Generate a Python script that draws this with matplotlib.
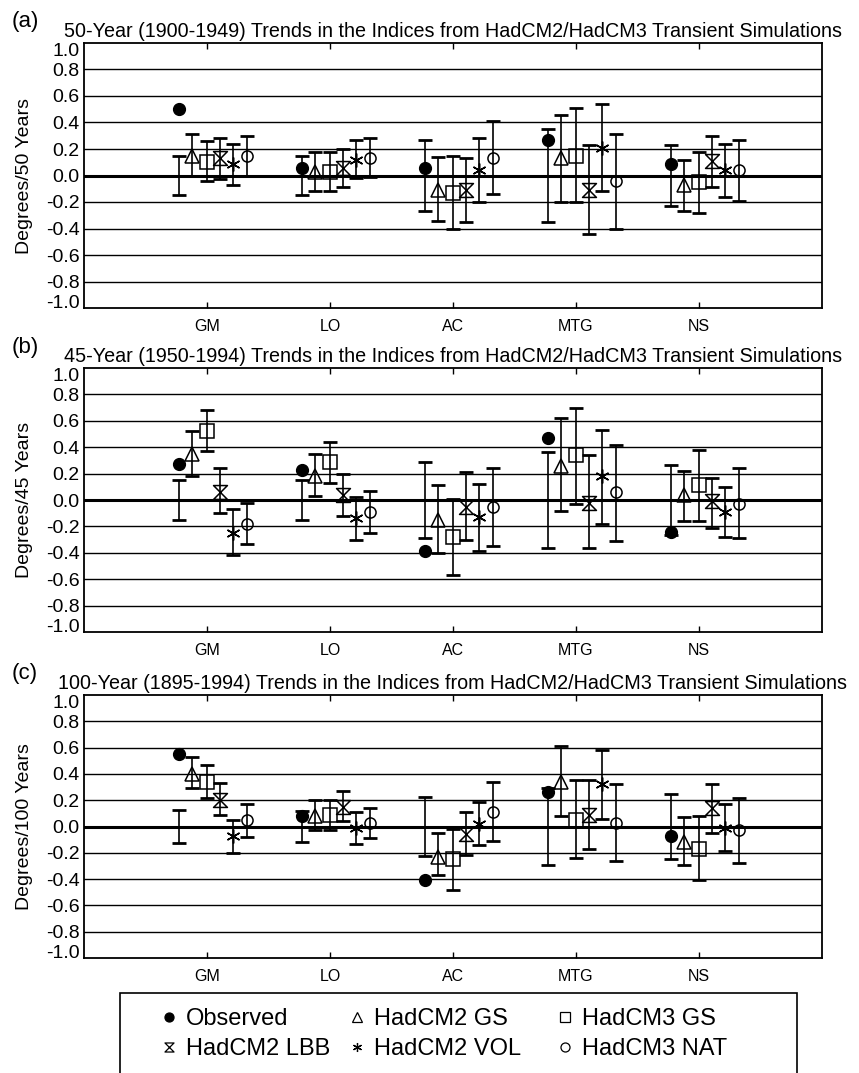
import numpy as np
import matplotlib
matplotlib.use("Agg")
import matplotlib.pyplot as plt
from matplotlib.path import Path
from matplotlib.lines import Line2D
from matplotlib.patches import Rectangle

plt.rcParams['font.family'] = ['Liberation Sans', 'DejaVu Sans']
plt.rcParams['axes.unicode_minus'] = False

categories = ['GM', 'LO', 'AC', 'MTG', 'NS']
panel_tags = ['(a)', '(b)', '(c)']
titles = ['50-Year (1900-1949) Trends in the Indices from HadCM2/HadCM3 Transient Simulations',
          '45-Year (1950-1994) Trends in the Indices from HadCM2/HadCM3 Transient Simulations',
          '100-Year (1895-1994) Trends in the Indices from HadCM2/HadCM3 Transient Simulations']
ylabels = ['Degrees/50 Years', 'Degrees/45 Years', 'Degrees/100 Years']
series_names = ['Observed', 'HadCM2 GS', 'HadCM3 GS', 'HadCM2 LBB', 'HadCM2 VOL', 'HadCM3 NAT']
ytick_vals = [-1.0, -0.8, -0.6, -0.4, -0.2, 0.0, 0.2, 0.4, 0.6, 0.8, 1.0]
ytick_labels = ['-1.0', '-0.8', '-0.6', '-0.4', '-0.2', '0.0', '0.2', '0.4', '0.6', '0.8', '1.0']

# (a) 50-year trends
a_obs = [0.50, 0.06, 0.06, 0.27, 0.09]
a_noise = [0.15, 0.15, 0.27, 0.35, 0.23]   # half width of the noise bar around zero
a_gs2 = [0.15, 0.03, -0.11, 0.13, -0.07]
a_gs2_lo = [0.00, -0.12, -0.34, -0.20, -0.27]
a_gs2_hi = [0.31, 0.18, 0.14, 0.46, 0.12]
a_gs3 = [0.10, 0.03, -0.13, 0.15, -0.05]
a_gs3_lo = [-0.04, -0.12, -0.40, -0.20, -0.28]
a_gs3_hi = [0.26, 0.18, 0.15, 0.51, 0.18]
a_lbb = [0.13, 0.06, -0.11, -0.11, 0.11]
a_lbb_lo = [-0.03, -0.09, -0.35, -0.44, -0.09]
a_lbb_hi = [0.28, 0.20, 0.13, 0.23, 0.30]
a_vol = [0.09, 0.12, 0.04, 0.21, 0.04]
a_vol_lo = [-0.07, -0.02, -0.20, -0.12, -0.16]
a_vol_hi = [0.24, 0.27, 0.28, 0.54, 0.24]
a_nat = [0.15, 0.13, 0.13, -0.04, 0.04]
a_nat_lo = [0.00, -0.01, -0.14, -0.40, -0.19]
a_nat_hi = [0.30, 0.28, 0.41, 0.31, 0.27]

# (b) 45-year trends
b_obs = [0.27, 0.23, -0.39, 0.47, -0.24]
b_noise = [0.155, 0.155, 0.29, 0.365, 0.265]
b_gs2 = [0.35, 0.18, -0.15, 0.26, 0.04]
b_gs2_lo = [0.18, 0.03, -0.40, -0.08, -0.16]
b_gs2_hi = [0.52, 0.35, 0.11, 0.62, 0.22]
b_gs3 = [0.52, 0.29, -0.28, 0.34, 0.11]
b_gs3_lo = [0.37, 0.13, -0.57, -0.03, -0.16]
b_gs3_hi = [0.68, 0.44, 0.01, 0.70, 0.38]
b_lbb = [0.06, 0.04, -0.05, -0.02, -0.01]
b_lbb_lo = [-0.10, -0.12, -0.30, -0.36, -0.21]
b_lbb_hi = [0.24, 0.20, 0.21, 0.34, 0.17]
b_vol = [-0.25, -0.14, -0.13, 0.18, -0.09]
b_vol_lo = [-0.42, -0.30, -0.39, -0.18, -0.28]
b_vol_hi = [-0.07, 0.02, 0.12, 0.53, 0.10]
b_nat = [-0.18, -0.09, -0.05, 0.06, -0.03]
b_nat_lo = [-0.33, -0.25, -0.35, -0.31, -0.29]
b_nat_hi = [-0.02, 0.07, 0.24, 0.42, 0.24]

# (c) 100-year trends
c_obs = [0.55, 0.08, -0.41, 0.26, -0.07]
c_noise = [0.125, 0.12, 0.225, 0.295, 0.245]
c_gs2 = [0.40, 0.08, -0.23, 0.34, -0.12]
c_gs2_lo = [0.29, -0.03, -0.37, 0.08, -0.29]
c_gs2_hi = [0.53, 0.20, -0.05, 0.61, 0.07]
c_gs3 = [0.34, 0.09, -0.25, 0.05, -0.17]
c_gs3_lo = [0.22, -0.03, -0.48, -0.24, -0.41]
c_gs3_hi = [0.47, 0.20, -0.02, 0.35, 0.08]
c_lbb = [0.20, 0.15, -0.06, 0.09, 0.14]
c_lbb_lo = [0.09, 0.04, -0.22, -0.17, -0.05]
c_lbb_hi = [0.33, 0.27, 0.11, 0.35, 0.32]
c_vol = [-0.07, -0.01, 0.02, 0.32, -0.01]
c_vol_lo = [-0.20, -0.13, -0.14, 0.06, -0.19]
c_vol_hi = [0.05, 0.11, 0.19, 0.58, 0.17]
c_nat = [0.05, 0.03, 0.11, 0.03, -0.03]
c_nat_lo = [-0.08, -0.09, -0.11, -0.26, -0.28]
c_nat_hi = [0.17, 0.14, 0.34, 0.32, 0.22]

panels = [
    (a_obs, a_noise, [(a_gs2, a_gs2_lo, a_gs2_hi), (a_gs3, a_gs3_lo, a_gs3_hi), (a_lbb, a_lbb_lo, a_lbb_hi),
                      (a_vol, a_vol_lo, a_vol_hi), (a_nat, a_nat_lo, a_nat_hi)]),
    (b_obs, b_noise, [(b_gs2, b_gs2_lo, b_gs2_hi), (b_gs3, b_gs3_lo, b_gs3_hi), (b_lbb, b_lbb_lo, b_lbb_hi),
                      (b_vol, b_vol_lo, b_vol_hi), (b_nat, b_nat_lo, b_nat_hi)]),
    (c_obs, c_noise, [(c_gs2, c_gs2_lo, c_gs2_hi), (c_gs3, c_gs3_lo, c_gs3_hi), (c_lbb, c_lbb_lo, c_lbb_hi),
                      (c_vol, c_vol_lo, c_vol_hi), (c_nat, c_nat_lo, c_nat_hi)]),
]

# hourglass marker (two triangles tip to tip)
hourglass = Path([(-1, 1), (1, 1), (-1, -1), (1, -1), (-1, 1)],
                 [Path.MOVETO, Path.LINETO, Path.LINETO, Path.LINETO, Path.CLOSEPOLY])
markers = ['o', '^', 's', hourglass, (6, 2, 0), 'o']
msizes = [8.5, 10, 10, 10, 10, 8]
offsets = [-0.23, -0.12, 0.0, 0.105, 0.215, 0.325]

W, H = 859, 1073
fig = plt.figure(figsize=(W / 100, H / 100), dpi=100)

# axes boxes in pixels: (top, bottom)
boxes = [(43, 308), (368, 632), (695, 958)]
left_px, right_px = 84, 822
x = np.arange(1, len(categories) + 1)

for k, (top, bot) in enumerate(boxes):
    ax = fig.add_axes([left_px / W, 1 - bot / H, (right_px - left_px) / W, (bot - top) / H])
    obs, noise, models = panels[k]

    for yv in ytick_vals[1:-1]:
        ax.axhline(yv, color='black', lw=2.2 if yv == 0.0 else 1.0, zorder=1)

    # observed: noise bar around zero plus filled dot
    ax.errorbar(x + offsets[0], np.zeros(len(x)), yerr=noise, fmt='none', ecolor='black',
                elinewidth=1.2, capsize=5, capthick=2, zorder=3)
    ax.plot(x + offsets[0], obs, linestyle='none', marker='o', ms=msizes[0],
            mfc='black', mec='black', zorder=4)

    for j, (val, lo, hi) in enumerate(models, start=1):
        val = np.array(val)
        yerr = [val - np.array(lo), np.array(hi) - val]
        ax.errorbar(x + offsets[j], val, yerr=yerr, fmt='none', ecolor='black',
                    elinewidth=1.2, capsize=5, capthick=2, zorder=3)
        ax.plot(x + offsets[j], val, linestyle='none', marker=markers[j], ms=msizes[j],
                mfc='none', mec='black', mew=1.1, zorder=4)

    ax.set_xlim(0, 6)
    ax.set_ylim(-1.0, 1.0)
    ax.set_xticks(x)
    ax.set_xticklabels(categories, fontsize=11.5)
    ax.set_yticks(ytick_vals)
    ax.set_yticklabels(ytick_labels, fontsize=14)
    # end labels sit inside the frame, as in the original
    ylabs = ax.get_yticklabels()
    ylabs[0].set_va('baseline')
    ylabs[-1].set_va('top')
    ax.tick_params(axis='x', direction='in', top=True, bottom=True, length=4, width=1, pad=8)
    ax.tick_params(axis='y', length=0, pad=3)
    for s in ax.spines.values():
        s.set_linewidth(1.3)
    ax.set_title(titles[k], fontsize=14.2, pad=4.5)
    ax.set_ylabel(ylabels[k], fontsize=14)
    ax.yaxis.set_label_coords(-0.069, 0.5)
    fig.text(12 / W, 1 - (top - 21) / H, panel_tags[k], fontsize=16, va='center', ha='left')

# legend: three columns of two entries, drawn inside a box cut by the figure edge
fig.patches.append(Rectangle((120 / W, -0.01), (797 - 120) / W, (1073 - 993) / H + 0.01,
                             transform=fig.transFigure, fill=False, edgecolor='black', lw=1.2))


def proxy(j):
    filled = j == 0
    return Line2D([], [], linestyle='none', marker=markers[j], ms=6.5,
                  mfc='black' if filled else 'none', mec='black', mew=0.9)


columns = [(0, 3), (1, 4), (2, 5)]
col_x = [162, 350, 558]
for cx, (j1, j2) in zip(col_x, columns):
    fig.legend([proxy(j1), proxy(j2)], [series_names[j1], series_names[j2]],
               loc='upper left', bbox_to_anchor=(cx / W, 1 - 1008 / H), frameon=False,
               fontsize=17, handlelength=0.6, handletextpad=0.4, borderpad=0,
               borderaxespad=0, labelspacing=0.35)

fig.savefig('out.png', dpi=100)
